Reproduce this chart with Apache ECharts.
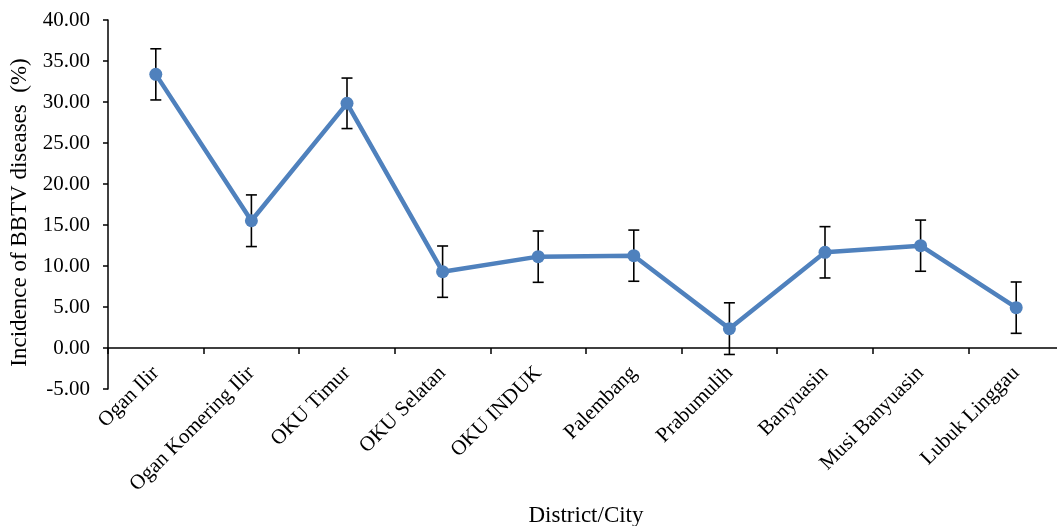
<!DOCTYPE html>
<html>
<head>
<meta charset="utf-8">
<script src="https://cdn.jsdelivr.net/npm/echarts@6/dist/echarts.min.js"></script>
<style>
html,body{margin:0;padding:0;background:#fff;}
#chart{width:1057px;height:526px;}
</style>
</head>
<body>
<div id="chart"></div>
<script>
var categories = ['Ogan Ilir','Ogan Komering Ilir','OKU Timur','OKU Selatan','OKU INDUK','Palembang','Prabumulih','Banyuasin','Musi Banyuasin','Lubuk Linggau'];
var incidence = [33.37, 15.52, 29.84, 9.31, 11.14, 11.26, 2.36, 11.67, 12.48, 4.92];
var errors = [3.12, 3.15, 3.08, 3.13, 3.13, 3.12, 3.15, 3.13, 3.12, 3.13];
var yTicks = {min: -5, max: 40, interval: 5};

var errData = incidence.map(function(v, i){ return [i, v - errors[i], v + errors[i]]; });

var font = 'Liberation Serif, Times New Roman, serif';
var chart = echarts.init(document.getElementById('chart'));
chart.setOption({
  animation: false,
  textStyle: {fontFamily: font},
  grid: {left: 108, right: -7, top: 20, bottom: 137, containLabel: false, outerBoundsMode: 'none'},
  xAxis: {
    type: 'category',
    data: categories,
    boundaryGap: true,
    name: 'District/City',
    nameLocation: 'middle',
    nameGap: 115,
    nameTextStyle: {fontFamily: font, fontSize: 23, color: '#000'},
    axisLine: {onZero: true, lineStyle: {color: '#000', width: 1.5}},
    axisTick: {show: true, alignWithLabel: false, interval: 0, length: 6, lineStyle: {color: '#000', width: 1.5}},
    axisLabel: {rotate: 45, interval: 0, margin: -19, fontFamily: font, fontSize: 21, color: '#000'},
    splitLine: {show: false}
  },
  yAxis: {
    type: 'value',
    min: yTicks.min, max: yTicks.max, interval: yTicks.interval,
    name: 'Incidence of BBTV diseases  (%)',
    nameLocation: 'middle',
    nameGap: 77,
    nameTextStyle: {fontFamily: font, fontSize: 23, color: '#000', padding: [0, 16, 0, 0]},
    axisLine: {show: true, lineStyle: {color: '#000', width: 1.5}},
    axisTick: {show: true, length: 5, lineStyle: {color: '#000', width: 1.5}},
    axisLabel: {margin: 18, fontFamily: font, fontSize: 21, color: '#000',
      formatter: function(v){ return v.toFixed(2); }},
    splitLine: {show: false}
  },
  series: [
    {
      type: 'custom',
      z: 1,
      data: errData,
      renderItem: function(params, api){
        var x = api.value(0);
        var lo = api.coord([x, api.value(1)]);
        var hi = api.coord([x, api.value(2)]);
        var hw = 5.5;
        var st = {stroke: '#000', lineWidth: 1.6};
        return {type: 'group', children: [
          {type: 'line', shape: {x1: lo[0], y1: lo[1], x2: hi[0], y2: hi[1]}, style: st},
          {type: 'line', shape: {x1: hi[0]-hw, y1: hi[1], x2: hi[0]+hw, y2: hi[1]}, style: st},
          {type: 'line', shape: {x1: lo[0]-hw, y1: lo[1], x2: lo[0]+hw, y2: lo[1]}, style: st}
        ]};
      }
    },
    {
      type: 'line',
      z: 3,
      data: incidence,
      symbol: 'circle',
      symbolSize: 13,
      lineStyle: {color: '#4F81BD', width: 4.5},
      itemStyle: {color: '#4F81BD'}
    }
  ]
});
</script>
</body>
</html>
